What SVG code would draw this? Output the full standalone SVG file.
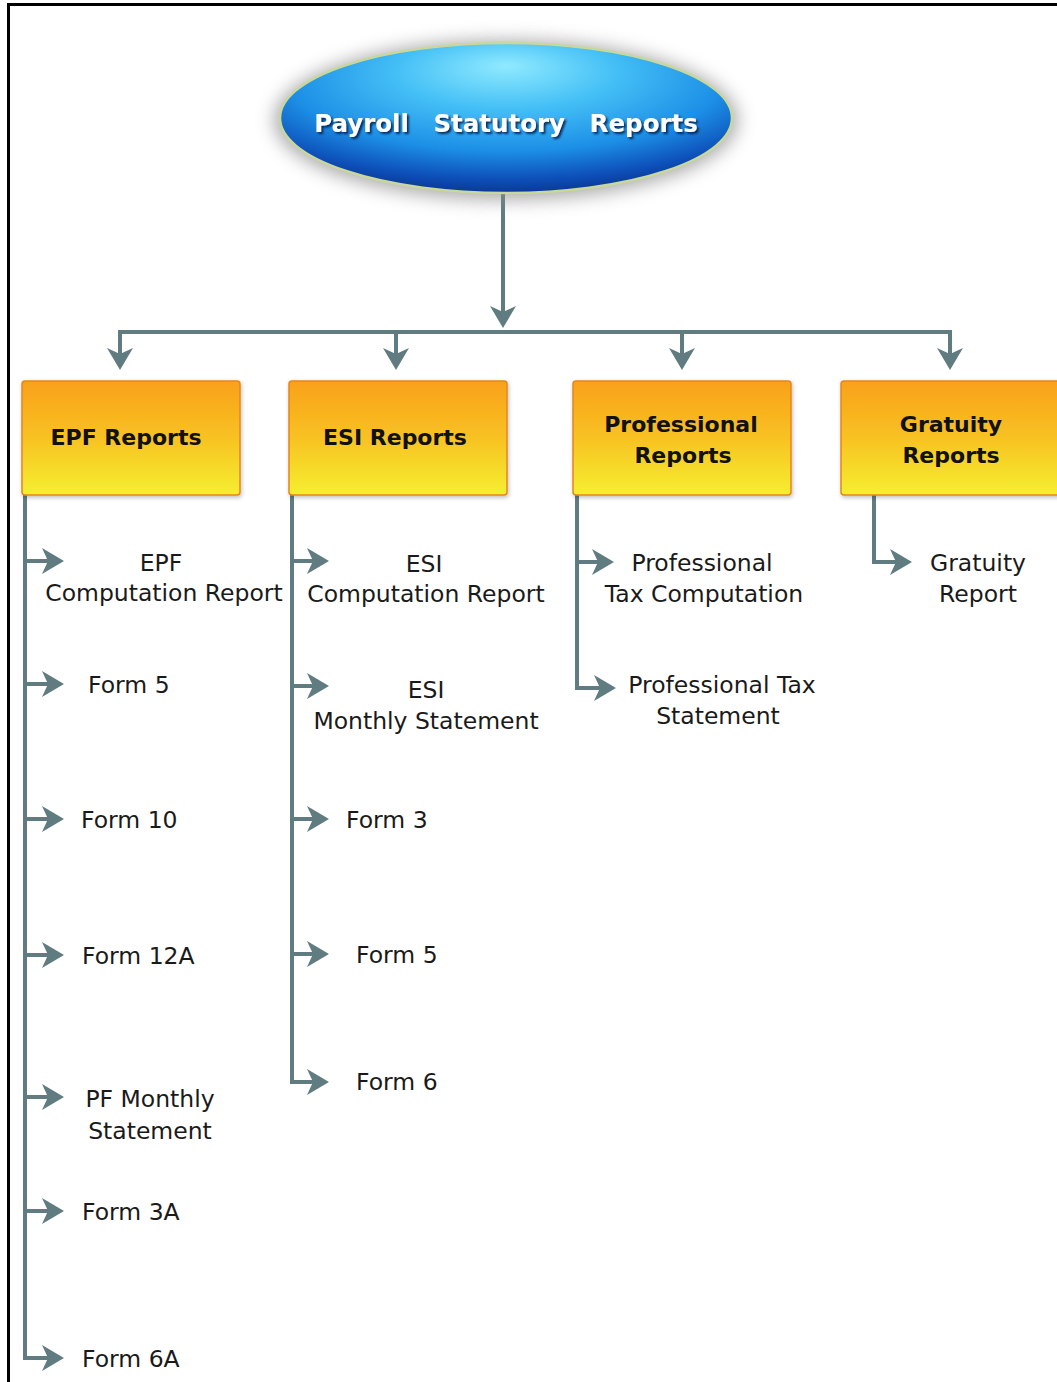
<svg xmlns="http://www.w3.org/2000/svg" width="1057" height="1382" viewBox="0 0 1057 1382">
<defs>
  <style>
    .conn { fill: none; stroke: #617c80; stroke-width: 4; }
    .arr { marker-end: url(#ah); }
    .box { stroke: #e5861e; stroke-width: 1.5; fill: url(#boxg); }
    .hdr { font-family: "DejaVu Sans", sans-serif; font-weight: bold; font-size: 22px; fill: #111; text-anchor: middle; }
    .item { font-family: "DejaVu Sans", sans-serif; font-size: 23.5px; fill: #1a1a1a; }
    .c { text-anchor: middle; }
    .title { font-family: "DejaVu Sans", sans-serif; font-weight: bold; font-size: 24.5px; fill: #ffffff; text-anchor: middle; word-spacing: 16px; }
  </style>
  <marker id="ah" viewBox="0 0 24 28" refX="16" refY="14" markerWidth="24" markerHeight="28" markerUnits="userSpaceOnUse" orient="auto">
    <path d="M24,14 L2,1 L8,14 L2,27 Z" fill="#617c80"/>
  </marker>
  <linearGradient id="boxg" x1="0" y1="0" x2="0" y2="1">
    <stop offset="0" stop-color="#f9a11a"/>
    <stop offset="0.5" stop-color="#f8c222"/>
    <stop offset="1" stop-color="#f5ef30"/>
  </linearGradient>
  <radialGradient id="ellg" cx="0.5" cy="0.3" r="0.8" fx="0.5" fy="0.15">
    <stop offset="0" stop-color="#90eaff"/>
    <stop offset="0.3" stop-color="#45c0f6"/>
    <stop offset="0.6" stop-color="#1c8fe6"/>
    <stop offset="0.8" stop-color="#0d4fb8"/>
    <stop offset="1" stop-color="#061f70"/>
  </radialGradient>
  <filter id="glow" x="-20%" y="-40%" width="140%" height="180%">
    <feGaussianBlur stdDeviation="9"/>
  </filter>
  <filter id="tsh" x="-10%" y="-30%" width="120%" height="160%">
    <feGaussianBlur in="SourceAlpha" stdDeviation="1.2" result="b"/>
    <feOffset dx="2" dy="2" in="b" result="o"/>
    <feFlood flood-color="#002050" flood-opacity="0.9"/>
    <feComposite in2="o" operator="in" result="s"/>
    <feMerge><feMergeNode in="s"/><feMergeNode in="SourceGraphic"/></feMerge>
  </filter>
  <filter id="bsh" x="-10%" y="-10%" width="120%" height="125%">
    <feGaussianBlur in="SourceAlpha" stdDeviation="2"/>
    <feOffset dx="1" dy="2" result="o"/>
    <feComponentTransfer><feFuncA type="linear" slope="0.25"/></feComponentTransfer>
    <feMerge><feMergeNode/><feMergeNode in="SourceGraphic"/></feMerge>
  </filter>
</defs>
<rect x="0" y="0" width="1057" height="1382" fill="#ffffff"/>
<rect x="8.5" y="4.5" width="1100" height="1420" fill="none" stroke="#000" stroke-width="3"/>

<g id="connectors">
  <path class="conn arr" d="M503,193 V320"/>
  <path class="conn" d="M120,332 H950"/>
  <path class="conn arr" d="M120,330 V362"/>
  <path class="conn arr" d="M396,330 V362"/>
  <path class="conn arr" d="M682,330 V362"/>
  <path class="conn arr" d="M950,330 V362"/>
  <path class="conn arr" d="M25,495 V1358 H56"/>
  <path class="conn arr" d="M25,561 H56"/>
  <path class="conn arr" d="M25,684 H56"/>
  <path class="conn arr" d="M25,819 H56"/>
  <path class="conn arr" d="M25,955 H56"/>
  <path class="conn arr" d="M25,1097 H56"/>
  <path class="conn arr" d="M25,1211 H56"/>
  <path class="conn arr" d="M292,495 V1082 H321"/>
  <path class="conn arr" d="M292,561 H321"/>
  <path class="conn arr" d="M292,686 H321"/>
  <path class="conn arr" d="M292,819 H321"/>
  <path class="conn arr" d="M292,954 H321"/>
  <path class="conn arr" d="M577,495 V688 H608"/>
  <path class="conn arr" d="M577,562 H606"/>
  <path class="conn arr" d="M874,495 V562 H904"/>
</g>

<g id="root">
  <ellipse cx="506" cy="120" rx="232" ry="80" fill="#8a8a8a" opacity="0.7" filter="url(#glow)"/>
  <ellipse cx="506" cy="118" rx="226" ry="75" fill="url(#ellg)" stroke="#c9d89a" stroke-width="2.5"/>
  <text class="title" x="506" y="132" filter="url(#tsh)">Payroll Statutory Reports</text>
</g>

<g id="epf-reports">
  <rect class="box" x="22" y="381" width="218" height="114" rx="3" filter="url(#bsh)"/>
  <text class="hdr" x="126" y="445">EPF Reports</text>
</g>
<g id="esi-reports">
  <rect class="box" x="289" y="381" width="218" height="114" rx="3" filter="url(#bsh)"/>
  <text class="hdr" x="395" y="445">ESI Reports</text>
</g>
<g id="professional-reports">
  <rect class="box" x="573" y="381" width="218" height="114" rx="3" filter="url(#bsh)"/>
  <text class="hdr" x="681" y="432">Professional</text>
  <text class="hdr" x="683" y="463">Reports</text>
</g>
<g id="gratuity-reports">
  <rect class="box" x="841" y="381" width="240" height="114" rx="3" filter="url(#bsh)"/>
  <text class="hdr" x="951" y="432">Gratuity</text>
  <text class="hdr" x="951" y="463">Reports</text>
</g>

<g id="epf-computation">
  <text class="item c" x="161" y="571">EPF</text>
  <text class="item c" x="164" y="601">Computation Report</text>
</g>
<g id="epf-form5"><text class="item" x="88" y="693">Form 5</text></g>
<g id="epf-form10"><text class="item" x="81" y="828">Form 10</text></g>
<g id="epf-form12a"><text class="item" x="82" y="964">Form 12A</text></g>
<g id="pf-monthly">
  <text class="item c" x="150" y="1107">PF Monthly</text>
  <text class="item c" x="150" y="1139">Statement</text>
</g>
<g id="epf-form3a"><text class="item" x="82" y="1220">Form 3A</text></g>
<g id="epf-form6a"><text class="item" x="82" y="1367">Form 6A</text></g>

<g id="esi-computation">
  <text class="item c" x="424" y="572">ESI</text>
  <text class="item c" x="426" y="602">Computation Report</text>
</g>
<g id="esi-monthly">
  <text class="item c" x="426" y="698">ESI</text>
  <text class="item c" x="426" y="729">Monthly Statement</text>
</g>
<g id="esi-form3"><text class="item" x="346" y="828">Form 3</text></g>
<g id="esi-form5"><text class="item" x="356" y="963">Form 5</text></g>
<g id="esi-form6"><text class="item" x="356" y="1090">Form 6</text></g>

<g id="pt-computation">
  <text class="item c" x="702" y="571">Professional</text>
  <text class="item c" x="704" y="602">Tax Computation</text>
</g>
<g id="pt-statement">
  <text class="item c" x="722" y="693">Professional Tax</text>
  <text class="item c" x="718" y="724">Statement</text>
</g>

<g id="gratuity-report">
  <text class="item c" x="978" y="571">Gratuity</text>
  <text class="item c" x="978" y="602">Report</text>
</g>
</svg>
